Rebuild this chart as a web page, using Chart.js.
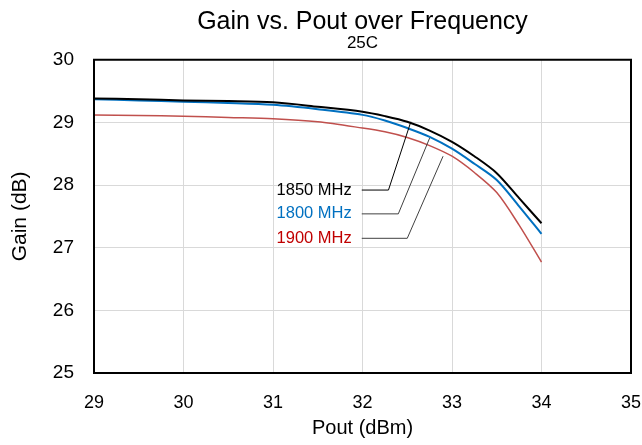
<!DOCTYPE html>
<html>
<head>
<meta charset="utf-8">
<script src="https://cdn.jsdelivr.net/npm/chart.js@4"></script>
<style>
  html, body { margin: 0; padding: 0; background: #fff; }
  #wrap { width: 642px; height: 445px; }
</style>
</head>
<body>
<div id="wrap"><canvas id="gainChart" width="642" height="445"></canvas></div>
<script>
  // Pout (dBm) sample points
  const pout = [29, 29.5, 30, 30.5, 31, 31.5, 32, 32.25, 32.5, 32.75, 33, 33.25, 33.5, 33.75, 34];

  // Gain (dB) per frequency
  const gain1850 = [29.38, 29.37, 29.35, 29.34, 29.32, 29.25, 29.17, 29.10, 29.01, 28.87, 28.69, 28.46, 28.19, 27.79, 27.39];
  const gain1800 = [29.37, 29.35, 29.33, 29.31, 29.28, 29.21, 29.12, 29.03, 28.91, 28.77, 28.58, 28.34, 28.08, 27.66, 27.22];
  const gain1900 = [29.12, 29.11, 29.10, 29.08, 29.06, 29.01, 28.91, 28.85, 28.76, 28.63, 28.46, 28.20, 27.88, 27.36, 26.77];

  const seriesNames = ["1850 MHz", "1800 MHz", "1900 MHz"];

  // callout leader lines, in data units: label end -> elbow -> point on curve
  const labelX = 31.88;
  const labelY = [27.92, 27.54, 27.15];
  const elbowX = [32.29, 32.40, 32.50];
  const tipX = [32.54, 32.75, 32.90];
  const tipY = [29.01, 28.75, 28.46];

  const xTicks = [29, 30, 31, 32, 33, 34, 35];
  const yTicks = [25, 26, 27, 28, 29, 30];

  const toPoints = ys => pout.map((x, i) => ({ x: x, y: ys[i] }));

  const calloutPlugin = {
    id: 'callouts',
    afterDatasetsDraw(chart) {
      const { ctx, scales } = chart;
      const sx = scales.x, sy = scales.y;
      ctx.save();
      chart.data.datasets.forEach((ds, i) => {
        const y0 = sy.getPixelForValue(labelY[i]);
        const xl = sx.getPixelForValue(labelX);
        // leader
        ctx.strokeStyle = i === 0 ? "#000" : "#404040";
        ctx.lineWidth = 1;
        ctx.beginPath();
        ctx.moveTo(xl + 10, y0);
        ctx.lineTo(sx.getPixelForValue(elbowX[i]), y0);
        ctx.lineTo(sx.getPixelForValue(tipX[i]), sy.getPixelForValue(tipY[i]));
        ctx.stroke();
        // text
        ctx.fillStyle = ds.labelColor;
        ctx.font = "16.5px 'Liberation Sans', Arial, sans-serif";
        ctx.textAlign = "right";
        ctx.textBaseline = "middle";
        ctx.fillText(seriesNames[i], xl, y0);
      });
      ctx.restore();
    }
  };

  // black frame around the plot area
  const framePlugin = {
    id: 'frame',
    afterDraw(chart) {
      const { ctx, chartArea: a } = chart;
      ctx.save();
      ctx.strokeStyle = "#000";
      ctx.lineWidth = 2;
      ctx.strokeRect(a.left, a.top, a.right - a.left, a.bottom - a.top);
      ctx.restore();
    }
  };

  const font = "'Liberation Sans', Arial, sans-serif";

  new Chart(document.getElementById("gainChart"), {
    type: 'line',
    data: {
      datasets: [
        { label: seriesNames[0], data: toPoints(gain1850), borderColor: "#000000", labelColor: "#000000", borderWidth: 2 },
        { label: seriesNames[1], data: toPoints(gain1800), borderColor: "#0070C0", labelColor: "#0070C0", borderWidth: 2 },
        { label: seriesNames[2], data: toPoints(gain1900), borderColor: "#C0504D", labelColor: "#C00000", borderWidth: 1.5 }
      ]
    },
    options: {
      responsive: false,
      animation: false,
      elements: {
        point: { radius: 0 },
        line: { tension: 0.3, fill: false }
      },
      layout: { padding: { left: 0, right: 11, top: 0, bottom: 0 } },
      scales: {
        x: {
          type: 'linear',
          min: 29,
          max: 35,
          afterBuildTicks: axis => { axis.ticks = xTicks.map(v => ({ value: v })); },
          ticks: { color: "#000", font: { family: font, size: 18 }, padding: 19 },
          grid: { color: "#d9d9d9", drawTicks: false },
          border: { display: false },
          title: { display: true, text: 'Pout (dBm)', color: "#000", font: { family: font, size: 20 }, padding: { top: 0, bottom: 5 } },
          afterFit: scale => { scale.height = 72; scale.paddingLeft = 0; scale.paddingRight = 0; }
        },
        y: {
          min: 25,
          max: 30,
          afterBuildTicks: axis => { axis.ticks = yTicks.map(v => ({ value: v })); },
          ticks: { color: "#000", font: { family: font, size: 19 }, padding: 20 },
          grid: { color: "#d9d9d9", drawTicks: false },
          border: { display: false },
          title: { display: true, text: 'Gain (dB)', color: "#000", font: { family: font, size: 21 }, padding: { top: 8, bottom: 0 } },
          afterFit: scale => { scale.width = 94; }
        }
      },
      plugins: {
        legend: { display: false },
        tooltip: { enabled: false },
        title: {
          display: true,
          text: 'Gain vs. Pout over Frequency',
          color: "#000",
          fullSize: false,
          font: { family: font, size: 25, weight: 'normal', lineHeight: 1.05 },
          padding: { top: 8.5, bottom: 0 }
        },
        subtitle: {
          display: true,
          text: '25C',
          color: "#000",
          fullSize: false,
          font: { family: font, size: 17, weight: 'normal', lineHeight: 1.0 },
          padding: { top: 0, bottom: 8 }
        }
      }
    },
    plugins: [calloutPlugin, framePlugin]
  });
</script>
</body>
</html>
